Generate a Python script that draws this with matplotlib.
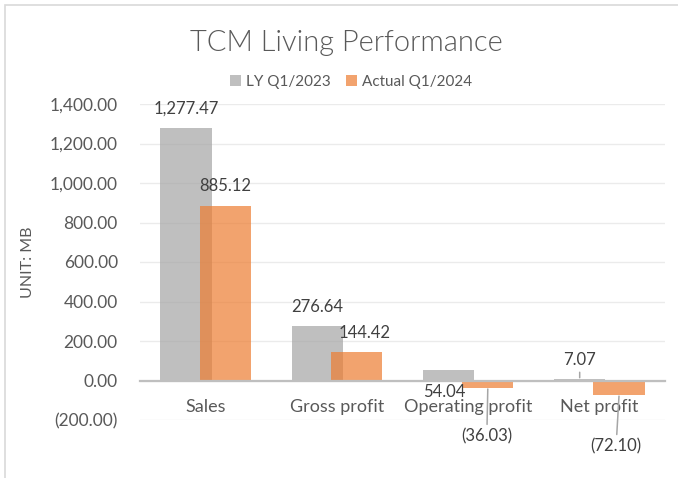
import matplotlib
matplotlib.use("Agg")
import matplotlib.pyplot as plt
from matplotlib.patches import Rectangle
import numpy as np

categories = ["Sales", "Gross profit", "Operating profit", "Net profit"]
ly_q1_2023 = [1277.47, 276.64, 54.04, 7.07]
actual_q1_2024 = [885.12, 144.42, -36.03, -72.10]
series_names = ["LY Q1/2023", "Actual Q1/2024"]
y_ticks = [-200, 0, 200, 400, 600, 800, 1000, 1200, 1400]

GRAY = "#A5A5A5"
ORANGE = "#ED7D31"
TEXT = "#595959"
LABEL = "#404040"
FONT = "Lato"

W, H = 678, 478
fig = plt.figure(figsize=(W / 100, H / 100), dpi=100)
fig.patch.set_facecolor("white")

# chart frame (only left and top edges are visible in the crop)
fig.add_artist(Rectangle((5 / W, -0.1), 1.2, 1.1 - 5 / H, transform=fig.transFigure,
                         fill=False, edgecolor="#D9D9D9", linewidth=1.2))

ax = fig.add_axes([140 / W, 1 - 420 / H, 525 / W, 316 / H])
ax.set_facecolor("none")

x = np.arange(len(categories))
width, offset = 0.39, 0.15
bars_ly = ax.bar(x - offset, ly_q1_2023, width, color=GRAY, alpha=0.7, label=series_names[0], zorder=2)
bars_ac = ax.bar(x + offset, actual_q1_2024, width, color=ORANGE, alpha=0.7, label=series_names[1], zorder=3)

ax.set_xlim(-0.5, len(categories) - 0.5)
ax.set_ylim(-200, 1400)
ax.set_yticks(y_ticks)
ax.yaxis.set_major_formatter(
    lambda v, pos: f"({abs(v):,.2f})" if v < 0 else f"{v:,.2f}")
ax.grid(axis="y", color="#EBEBEB", linewidth=1.0, zorder=0)
ax.set_axisbelow(True)

for side in ["top", "right", "left"]:
    ax.spines[side].set_visible(False)
ax.spines["bottom"].set_position(("data", 0))
ax.spines["bottom"].set_color("#BFBFBF")
ax.spines["bottom"].set_linewidth(1.6)
ax.spines["bottom"].set_zorder(4)

ax.set_xticks(x)
ax.set_xticklabels(categories)
ax.tick_params(axis="x", length=0, pad=13, labelsize=13, labelcolor=TEXT)
ax.tick_params(axis="y", length=0, pad=16, labelsize=12.5, labelcolor=TEXT)
for lab in ax.get_xticklabels() + ax.get_yticklabels():
    lab.set_fontfamily(FONT)

fig.text(28 / W, 1 - 262 / H, "UNIT: MB", rotation=90, ha="center", va="center",
         fontsize=11.5, color=TEXT, fontfamily=FONT)

# data labels: (dx, dy) in pixels from the bar end, and whether a leader line is drawn
label_offsets_ly = [((0, 20), False), ((0, 19), False), ((-4, -22), False), ((0, 19), True)]
label_offsets_ac = [((0, 20), False), ((8, 19), False), ((-1, -49), True), ((-3, -52), True)]


def fmt(v):
    return f"({abs(v):,.2f})" if v < 0 else f"{v:,.2f}"


for bars, values, offsets in [(bars_ly, ly_q1_2023, label_offsets_ly),
                              (bars_ac, actual_q1_2024, label_offsets_ac)]:
    for bar, v, ((dx, dy), leader) in zip(bars, values, offsets):
        xc = bar.get_x() + bar.get_width() / 2
        arrow = dict(arrowstyle="-", color="#A6A6A6", linewidth=1.1,
                     shrinkA=1, shrinkB=1) if leader else None
        ax.annotate(fmt(v), xy=(xc, v), xytext=(dx, dy), textcoords="offset pixels",
                    ha="center", va="center", fontsize=12, color=LABEL,
                    fontfamily=FONT, arrowprops=arrow, zorder=5)

fig.text(346 / W, 1 - 43 / H, "TCM Living Performance", ha="center", va="center",
         fontsize=21, color=TEXT, fontfamily=FONT, fontweight=300)

fig.legend(loc="center", bbox_to_anchor=(351 / W, 1 - 82 / H), ncol=2, frameon=False,
           prop={"family": FONT, "size": 11}, labelcolor=TEXT, handlelength=0.7,
           handleheight=0.7, handletextpad=0.35, columnspacing=1.0)

fig.savefig("out.png", dpi=100)
